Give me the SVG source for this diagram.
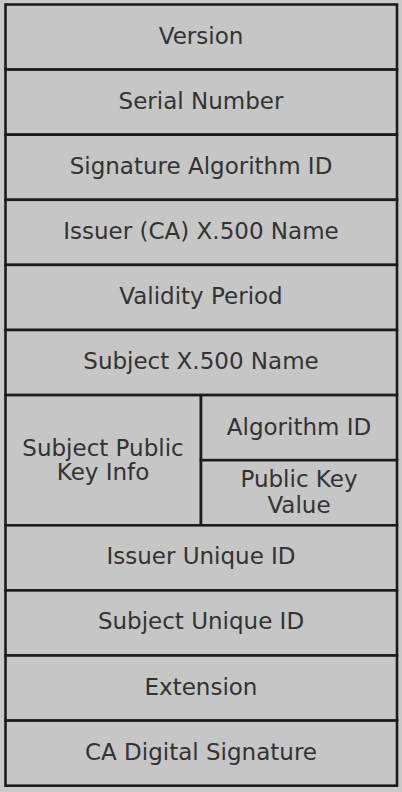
<svg xmlns="http://www.w3.org/2000/svg" width="402" height="792" viewBox="0 0 402 792">
  <style>
    .cell { fill: #c6c6c6; stroke: #1c1c1c; stroke-width: 2.6; }
    .lbl { font-family: "DejaVu Sans", Verdana, sans-serif; font-size: 23px; fill: #333333; text-anchor: middle; }
  </style>
  <rect x="0" y="0" width="402" height="792" fill="#c9c9c9"/>

  <!-- X.509 certificate fields, one row per field -->
  <g id="version">
    <rect class="cell" x="5.5" y="4.5" width="391.5" height="65.1"/>
    <text class="lbl" x="201" y="43.5">Version</text>
  </g>
  <g id="serial-number">
    <rect class="cell" x="5.5" y="69.6" width="391.5" height="65.1"/>
    <text class="lbl" x="201" y="108.6">Serial Number</text>
  </g>
  <g id="signature-algorithm-id">
    <rect class="cell" x="5.5" y="134.7" width="391.5" height="65.1"/>
    <text class="lbl" x="201" y="173.7">Signature Algorithm ID</text>
  </g>
  <g id="issuer-name">
    <rect class="cell" x="5.5" y="199.8" width="391.5" height="65.1"/>
    <text class="lbl" x="201" y="238.8">Issuer (CA) X.500 Name</text>
  </g>
  <g id="validity-period">
    <rect class="cell" x="5.5" y="264.9" width="391.5" height="65.1"/>
    <text class="lbl" x="201" y="303.9">Validity Period</text>
  </g>
  <g id="subject-name">
    <rect class="cell" x="5.5" y="330" width="391.5" height="65.1"/>
    <text class="lbl" x="201" y="369">Subject X.500 Name</text>
  </g>
  <g id="subject-public-key-info">
    <rect class="cell" x="5.5" y="395.1" width="195.5" height="130.2"/>
    <text class="lbl" x="103" y="455.5">Subject Public</text>
    <text class="lbl" x="103" y="479.5">Key Info</text>
  </g>
  <g id="algorithm-id">
    <rect class="cell" x="201" y="395.1" width="196" height="65.1"/>
    <text class="lbl" x="299" y="434.5">Algorithm ID</text>
  </g>
  <g id="public-key-value">
    <rect class="cell" x="201" y="460.2" width="196" height="65.1"/>
    <text class="lbl" x="299" y="487">Public Key</text>
    <text class="lbl" x="299" y="512.5">Value</text>
  </g>
  <g id="issuer-unique-id">
    <rect class="cell" x="5.5" y="525.3" width="391.5" height="65.1"/>
    <text class="lbl" x="201" y="564.3">Issuer Unique ID</text>
  </g>
  <g id="subject-unique-id">
    <rect class="cell" x="5.5" y="590.4" width="391.5" height="65.1"/>
    <text class="lbl" x="201" y="629.4">Subject Unique ID</text>
  </g>
  <g id="extension">
    <rect class="cell" x="5.5" y="655.5" width="391.5" height="65.1"/>
    <text class="lbl" x="201" y="694.5">Extension</text>
  </g>
  <g id="ca-digital-signature">
    <rect class="cell" x="5.5" y="720.6" width="391.5" height="65.1"/>
    <text class="lbl" x="201" y="759.6">CA Digital Signature</text>
  </g>
</svg>
